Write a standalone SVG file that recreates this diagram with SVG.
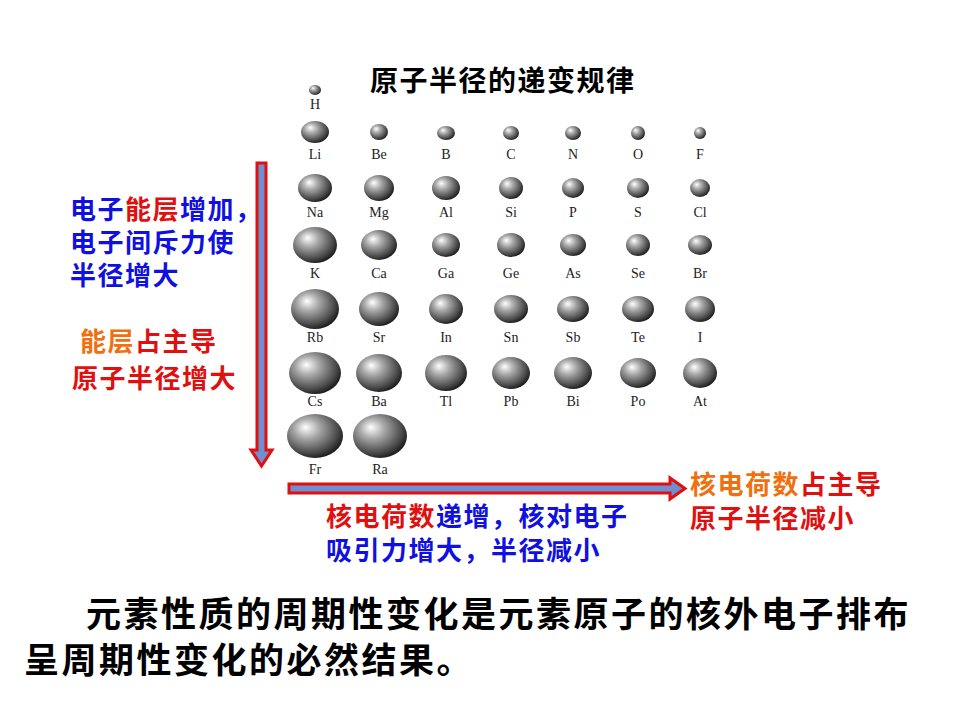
<svg xmlns="http://www.w3.org/2000/svg" width="960" height="720" viewBox="0 0 960 720">
<defs>
<radialGradient id="g" cx="0.4" cy="0.38" r="0.65" fx="0.33" fy="0.3">
<stop offset="0" stop-color="#ffffff"/>
<stop offset="0.35" stop-color="#a8a8a8"/>
<stop offset="0.8" stop-color="#4a4a4a"/>
<stop offset="1" stop-color="#1a1a1a"/>
</radialGradient>
<style>
.s{fill:url(#g)}
.l{font-family:"Liberation Serif",serif;font-size:14px;fill:#222;text-anchor:middle}
.c{font-family:"Noto Sans CJK SC",sans-serif;font-weight:bold}
.ar{fill:#6f8fd0;stroke:#e01010;stroke-width:3}
</style>
</defs>
<rect width="960" height="720" fill="#fff"/>
<text x="370" y="91" class="c" font-size="28" letter-spacing="1.5" fill="#000">原子半径的递变规律</text>
<g id="atoms">
<ellipse class="s" cx="315" cy="90" rx="6" ry="5"/><text class="l" x="315" y="109">H</text>
<g>
<ellipse class="s" cx="315" cy="132" rx="14" ry="11"/><text class="l" x="315" y="159">Li</text>
<ellipse class="s" cx="379" cy="132" rx="9" ry="8"/><text class="l" x="379" y="159">Be</text>
<ellipse class="s" cx="446" cy="133" rx="9" ry="7"/><text class="l" x="446" y="159">B</text>
<ellipse class="s" cx="511" cy="133" rx="8" ry="7"/><text class="l" x="511" y="159">C</text>
<ellipse class="s" cx="573" cy="133" rx="8" ry="7"/><text class="l" x="573" y="159">N</text>
<ellipse class="s" cx="638" cy="133" rx="7" ry="7"/><text class="l" x="638" y="159">O</text>
<ellipse class="s" cx="700" cy="133" rx="6" ry="6"/><text class="l" x="700" y="159">F</text>
</g>
<g>
<ellipse class="s" cx="315" cy="188" rx="17" ry="14"/><text class="l" x="315" y="217">Na</text>
<ellipse class="s" cx="379" cy="188" rx="15" ry="13"/><text class="l" x="379" y="217">Mg</text>
<ellipse class="s" cx="446" cy="188" rx="14" ry="12"/><text class="l" x="446" y="217">Al</text>
<ellipse class="s" cx="511" cy="188" rx="12" ry="11"/><text class="l" x="511" y="217">Si</text>
<ellipse class="s" cx="573" cy="188" rx="11" ry="10"/><text class="l" x="573" y="217">P</text>
<ellipse class="s" cx="638" cy="188" rx="11" ry="10"/><text class="l" x="638" y="217">S</text>
<ellipse class="s" cx="700" cy="188" rx="10" ry="9"/><text class="l" x="700" y="217">Cl</text>
</g>
<g>
<ellipse class="s" cx="315" cy="245" rx="22" ry="18"/><text class="l" x="315" y="278">K</text>
<ellipse class="s" cx="379" cy="245" rx="18" ry="15"/><text class="l" x="379" y="278">Ca</text>
<ellipse class="s" cx="446" cy="245" rx="14" ry="12"/><text class="l" x="446" y="278">Ga</text>
<ellipse class="s" cx="511" cy="245" rx="14" ry="12"/><text class="l" x="511" y="278">Ge</text>
<ellipse class="s" cx="573" cy="245" rx="13" ry="11"/><text class="l" x="573" y="278">As</text>
<ellipse class="s" cx="638" cy="245" rx="12" ry="11"/><text class="l" x="638" y="278">Se</text>
<ellipse class="s" cx="700" cy="245" rx="12" ry="10"/><text class="l" x="700" y="278">Br</text>
</g>
<g>
<ellipse class="s" cx="315" cy="309" rx="24" ry="20"/><text class="l" x="315" y="342">Rb</text>
<ellipse class="s" cx="379" cy="309" rx="20" ry="17"/><text class="l" x="379" y="342">Sr</text>
<ellipse class="s" cx="446" cy="309" rx="17" ry="15"/><text class="l" x="446" y="342">In</text>
<ellipse class="s" cx="511" cy="309" rx="17" ry="14"/><text class="l" x="511" y="342">Sn</text>
<ellipse class="s" cx="573" cy="309" rx="16" ry="13"/><text class="l" x="573" y="342">Sb</text>
<ellipse class="s" cx="638" cy="309" rx="16" ry="13"/><text class="l" x="638" y="342">Te</text>
<ellipse class="s" cx="700" cy="309" rx="15" ry="13"/><text class="l" x="700" y="342">I</text>
</g>
<g>
<ellipse class="s" cx="315" cy="373" rx="26" ry="21"/><text class="l" x="315" y="406">Cs</text>
<ellipse class="s" cx="379" cy="373" rx="23" ry="19"/><text class="l" x="379" y="406">Ba</text>
<ellipse class="s" cx="446" cy="373" rx="21" ry="18"/><text class="l" x="446" y="406">Tl</text>
<ellipse class="s" cx="511" cy="373" rx="19" ry="16"/><text class="l" x="511" y="406">Pb</text>
<ellipse class="s" cx="573" cy="373" rx="19" ry="16"/><text class="l" x="573" y="406">Bi</text>
<ellipse class="s" cx="638" cy="373" rx="18" ry="15"/><text class="l" x="638" y="406">Po</text>
<ellipse class="s" cx="700" cy="373" rx="17" ry="15"/><text class="l" x="700" y="406">At</text>
</g>
<g>
<ellipse class="s" cx="315" cy="436" rx="28" ry="22"/><text class="l" x="315" y="474">Fr</text>
<ellipse class="s" cx="380" cy="436" rx="27" ry="22"/><text class="l" x="380" y="474">Ra</text>
</g>
</g>
<g id="connectors">
<path class="ar" d="M257,163 H266 V450 H272 L261.5,466 L251,450 H257 Z"/>
<path class="ar" d="M289,484 H670 V478 L685,488.5 L670,499 V493 H289 Z"/>
</g>
<g id="labels" class="c" font-size="26" letter-spacing="1.5">
<text x="70" y="219"><tspan fill="#1010e0">电子</tspan><tspan fill="#e01010">能层</tspan><tspan fill="#1010e0">增加，</tspan></text>
<text x="70" y="252" fill="#1010e0">电子间斥力使</text>
<text x="70" y="285" fill="#1010e0">半径增大</text>
<text x="80" y="351" fill="#f07010">能层<tspan fill="#e01010">占主导</tspan></text>
<text x="72" y="388" fill="#e01010">原子半径增大</text>
<text x="690" y="494" fill="#f07010">核电荷数<tspan fill="#e01010">占主导</tspan></text>
<text x="690" y="528" fill="#e01010">原子半径减小</text>
<text x="326" y="526"><tspan fill="#e01010">核电荷数</tspan><tspan fill="#1010e0">递增，核对电子</tspan></text>
<text x="326" y="560" fill="#1010e0">吸引力增大，半径减小</text>
</g>
<g id="caption" class="c" font-size="35" letter-spacing="2.5" fill="#000">
<text x="86" y="627">元素性质的周期性变化是元素原子的核外电子排布</text>
<text x="24" y="673">呈周期性变化的必然结果。</text>
</g>
</svg>
